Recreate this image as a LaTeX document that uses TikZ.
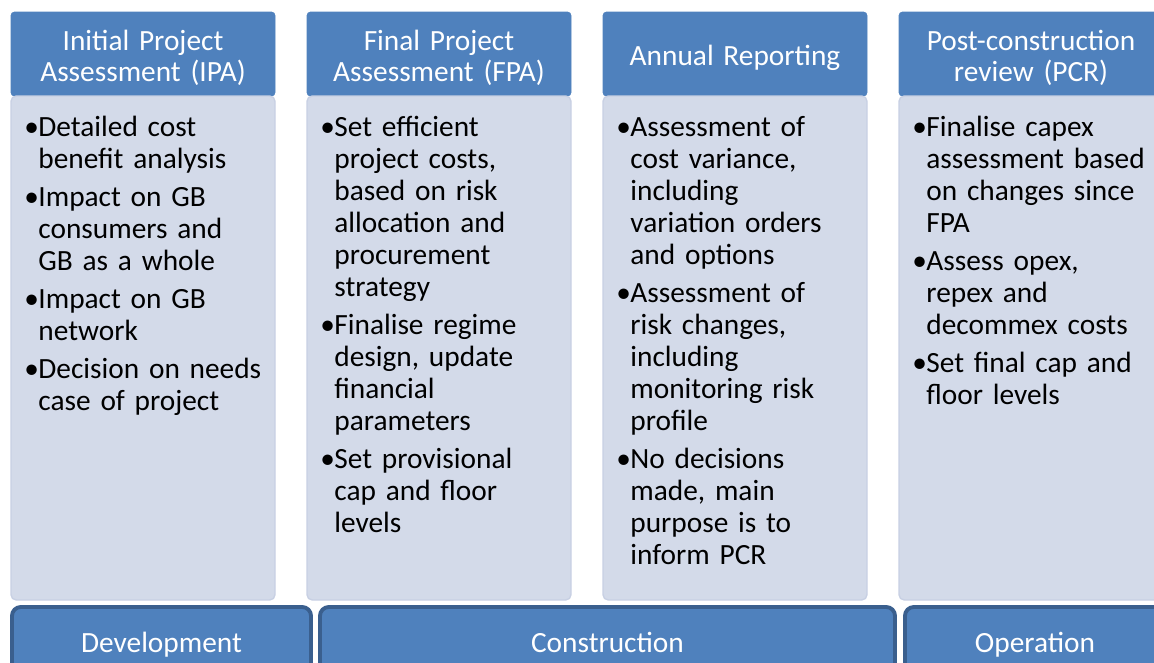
\documentclass[tikz,border=0pt]{standalone}
\usepackage{fontspec}
\setmainfont{Carlito}
\definecolor{hdblue}{HTML}{4F81BD}
\definecolor{bdfill}{HTML}{D3DAE9}
\definecolor{bdline}{HTML}{C8D0E3}
\definecolor{phline}{HTML}{3A5F8E}
\newcommand{\bitem}[1]{\par\noindent\hangindent=8pt\hangafter=1\makebox[8pt][l]{\textbullet}#1\par}

\begin{document}
\begin{tikzpicture}[
  hd/.style={draw=hdblue,fill=hdblue,rounded corners=2pt,minimum width=5.28cm,minimum height=1.68cm,
    text width=5.1cm,align=center,inner sep=0pt,text height=0.55cm,text=white,font=\fontsize{16.7}{17.6}\selectfont},
  bd/.style={draw=bdline,fill=bdfill,line width=0.8pt,rounded corners=3pt,minimum width=5.28cm,
    minimum height=10.08cm,inner sep=0pt},
  txt/.style={anchor=north west,text width=5.2cm,align=left,inner sep=0pt,
    font=\fontsize{16.7}{18.2}\selectfont\setlength{\parskip}{3.4pt}},
  ph/.style={draw=phline,fill=hdblue,line width=2.2pt,rounded corners=5pt,minimum height=1.44cm,
    inner sep=0pt,text=white,text height=0.56cm,text depth=0.2cm,font=\fontsize{16.7}{18.2}\selectfont}]
\useasboundingbox (0,0) rectangle (23.08,-13.24);
\clip (0,0) rectangle (23.08,-13.24);
\node[hd] (h1) at (2.86,-1.08) {Initial Project\\Assessment (IPA)};
\node[hd] (h2) at (8.78,-1.08) {Final Project\\Assessment (FPA)};
\node[hd] (h3) at (14.70,-1.08) {Annual Reporting};
\node[hd] (h4) at (20.62,-1.08) {Post-construction\\review (PCR)};
\node[bd] (b1) at (2.86,-6.96) {};
\node[bd] (b2) at (8.78,-6.96) {};
\node[bd] (b3) at (14.70,-6.96) {};
\node[bd] (b4) at (20.62,-6.96) {};
\node[txt] (t1) at (0.48,-1.97) {%
  \bitem{Detailed cost\newline benefit analysis}
  \bitem{Impact on GB\newline consumers and\newline GB as a whole}
  \bitem{Impact on GB\newline network}
  \bitem{Decision on needs\newline case of project}};
\node[txt] (t2) at (6.40,-1.97) {%
  \bitem{Set efficient\newline project costs,\newline based on risk\newline allocation and\newline procurement\newline strategy}
  \bitem{Finalise regime\newline design, update\newline financial\newline parameters}
  \bitem{Set provisional\newline cap and floor\newline levels}};
\node[txt] (t3) at (12.32,-1.97) {%
  \bitem{Assessment of\newline cost variance,\newline including\newline variation orders\newline and options}
  \bitem{Assessment of\newline risk changes,\newline including\newline monitoring risk\newline profile}
  \bitem{No decisions\newline made, main\newline purpose is to\newline inform PCR}};
\node[txt] (t4) at (18.24,-1.97) {%
  \bitem{Finalise capex\newline assessment based\newline on changes since\newline FPA}
  \bitem{Assess opex,\newline repex and\newline decommex costs}
  \bitem{Set final cap and\newline floor levels}};
\node[ph,minimum width=5.98cm] (ph1) at (3.23,-12.86) {Development};
\node[ph,minimum width=11.50cm] (ph2) at (12.15,-12.86) {Construction};
\node[ph,minimum width=5.20cm] (ph3) at (20.70,-12.86) {Operation};
\end{tikzpicture}
\end{document}
